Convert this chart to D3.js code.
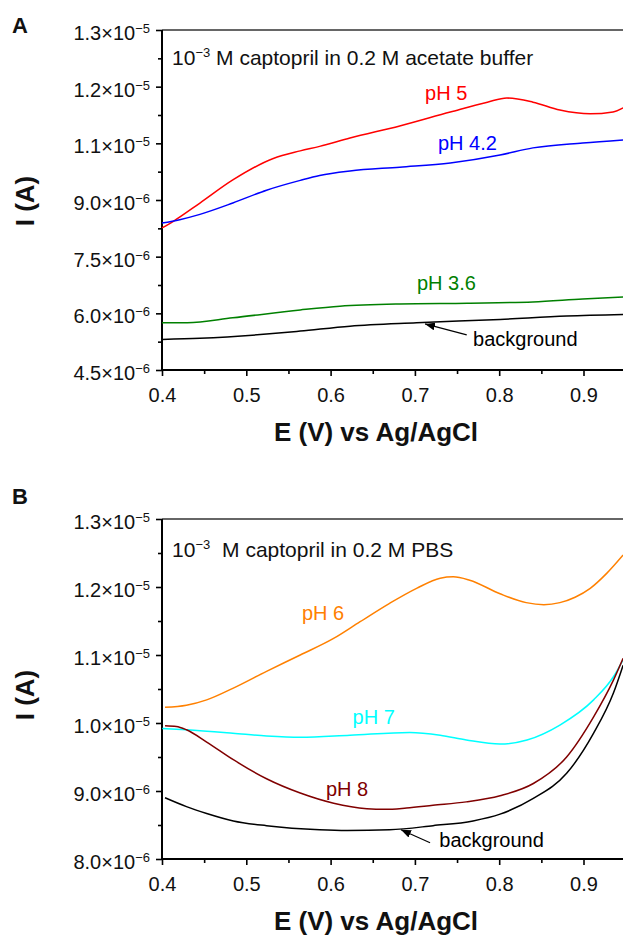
<!DOCTYPE html>
<html>
<head>
<meta charset="utf-8">
<script src="https://cdn.jsdelivr.net/npm/d3@7/dist/d3.min.js"></script>
<style>
  html, body { margin: 0; padding: 0; background: #fff; }
  svg { display: block; font-family: "Liberation Sans", Arial, Helvetica, sans-serif; }
</style>
</head>
<body>
<svg id="chart" width="623" height="937"></svg>
<script>
// Potential axis (V vs Ag/AgCl), shared by both panels
const potentialTicks = [0.4, 0.5, 0.6, 0.7, 0.8, 0.9];
const potentialMinor = [0.45, 0.55, 0.65, 0.75, 0.85];

// Panel A: acetate buffer. Currents in units of 1e-6 A.
const acetateTicks = [4.5, 6.0, 7.5, 9.0, 10.5, 12.0, 13.5];
const acetateTickLabels = [["4.5", "−6"], ["6.0", "−6"], ["7.5", "−6"], ["9.0", "−6"],
                           ["1.1", "−5"], ["1.2", "−5"], ["1.3", "−5"]];
const acetatePH5 = [[0.400, 8.26], [0.413, 8.43], [0.445, 8.92], [0.484, 9.53], [0.532, 10.10],
  [0.564, 10.30], [0.587, 10.42], [0.623, 10.64], [0.682, 10.96], [0.742, 11.33], [0.786, 11.59],
  [0.809, 11.70], [0.840, 11.59], [0.872, 11.38], [0.908, 11.28], [0.935, 11.33], [0.947, 11.44]];
const acetatePH42 = [[0.400, 8.39], [0.421, 8.48], [0.445, 8.62], [0.484, 8.92], [0.524, 9.26],
  [0.564, 9.52], [0.587, 9.65], [0.623, 9.77], [0.682, 9.87], [0.742, 9.98], [0.801, 10.19],
  [0.840, 10.38], [0.899, 10.51], [0.947, 10.59]];
const acetatePH36 = [[0.400, 5.75], [0.430, 5.75], [0.484, 5.88], [0.564, 6.09], [0.611, 6.19],
  [0.682, 6.25], [0.762, 6.27], [0.840, 6.30], [0.899, 6.38], [0.947, 6.43]];
const acetateBackground = [[0.400, 5.31], [0.445, 5.34], [0.524, 5.45], [0.564, 5.53], [0.623, 5.66],
  [0.702, 5.75], [0.801, 5.84], [0.880, 5.93], [0.947, 5.97]];

// Panel B: phosphate buffer. Currents in units of 1e-6 A.
const pbsTicks = [8, 9, 10, 11, 12, 13];
const pbsTickLabels = [["8.0", "−6"], ["9.0", "−6"], ["1.0", "−5"], ["1.1", "−5"], ["1.2", "−5"], ["1.3", "−5"]];
const pbsPH6 = [[0.4036, 10.23], [0.429, 10.26], [0.453, 10.34], [0.484, 10.51], [0.524, 10.76],
  [0.564, 11.00], [0.603, 11.24], [0.635, 11.49], [0.670, 11.76], [0.702, 11.98], [0.730, 12.13],
  [0.7455, 12.15], [0.765, 12.10], [0.801, 11.90], [0.832, 11.77], [0.853, 11.74], [0.872, 11.77],
  [0.890, 11.85], [0.908, 11.98], [0.9275, 12.20], [0.947, 12.47]];
const pbsPH7 = [[0.4004, 9.92], [0.429, 9.90], [0.484, 9.85], [0.524, 9.81], [0.564, 9.79],
  [0.623, 9.82], [0.694, 9.86], [0.730, 9.82], [0.761, 9.75], [0.801, 9.69], [0.833, 9.75],
  [0.872, 9.97], [0.912, 10.34], [0.9355, 10.68], [0.947, 10.93]];
const pbsPH8 = [[0.4036, 9.96], [0.417, 9.95], [0.429, 9.90], [0.453, 9.72], [0.4846, 9.46],
  [0.524, 9.18], [0.564, 8.97], [0.6036, 8.82], [0.643, 8.74], [0.665, 8.73], [0.690, 8.75],
  [0.7215, 8.79], [0.761, 8.84], [0.801, 8.93], [0.8405, 9.11], [0.880, 9.50], [0.912, 10.09],
  [0.9355, 10.63], [0.947, 10.95]];
const pbsBackground = [[0.4036, 8.90], [0.429, 8.77], [0.453, 8.67], [0.4846, 8.56], [0.524, 8.49],
  [0.587, 8.43], [0.620, 8.42], [0.670, 8.43], [0.7215, 8.49], [0.769, 8.56], [0.801, 8.66],
  [0.8405, 8.89], [0.880, 9.26], [0.912, 9.85], [0.9355, 10.44], [0.947, 10.85]];

const FONT_TICK = 20;
const FONT_TITLE = 26;

const svg = d3.select("#chart");

svg.append("defs").append("marker")
  .attr("id", "arrow")
  .attr("markerUnits", "userSpaceOnUse")
  .attr("viewBox", "0 0 10 8")
  .attr("refX", 10).attr("refY", 4)
  .attr("markerWidth", 10).attr("markerHeight", 8)
  .attr("orient", "auto")
  .append("path").attr("d", "M0,0 L10,4 L0,8 Z").attr("fill", "#000");

function drawPanel(cfg) {
  const left = 162, right = 162 + 0.55 * 843;
  const x = d3.scaleLinear().domain([0.4, 0.95]).range([left, right]);
  const y = d3.scaleLinear().domain(cfg.yDomain).range([cfg.bottom, cfg.top]);
  const g = svg.append("g");

  // frame: top border, left and bottom axes
  g.append("line").attr("x1", left).attr("x2", 640).attr("y1", cfg.top).attr("y2", cfg.top)
    .attr("stroke", "#333").attr("stroke-width", 1.5);

  // y axis
  const yAxis = d3.axisLeft(y).tickValues(cfg.yTicks).tickSize(6).tickFormat("");
  const ya = g.append("g").attr("transform", `translate(${left},0)`).call(yAxis);
  const yMinor = d3.axisLeft(y).tickValues(d3.pairs(cfg.yTicks).map(p => (p[0] + p[1]) / 2))
    .tickSize(4).tickFormat("");
  const ym = g.append("g").attr("transform", `translate(${left},0)`).call(yMinor);
  [ya, ym].forEach(a => {
    a.select(".domain").remove();
    a.selectAll(".tick line").attr("stroke", "#000").attr("stroke-width", 1.6);
  });
  g.append("line").attr("x1", left).attr("x2", left).attr("y1", cfg.top).attr("y2", cfg.bottom + 1)
    .attr("stroke", "#000").attr("stroke-width", 2);

  cfg.yTicks.forEach((v, i) => {
    const [mant, expo] = cfg.yLabels[i];
    const t = g.append("text").attr("x", left - 12).attr("y", y(v) + 10)
      .attr("text-anchor", "end").attr("font-size", FONT_TICK).attr("fill", "#111");
    t.append("tspan").text(mant + "×10");
    t.append("tspan").attr("font-size", 13).attr("dy", -7).text(expo);
  });

  // x axis
  const xAxis = d3.axisBottom(x).tickValues(potentialTicks).tickSize(6)
    .tickFormat(d3.format(".1f"));
  const xa = g.append("g").attr("transform", `translate(0,${cfg.bottom})`).call(xAxis);
  xa.select(".domain").remove();
  xa.selectAll(".tick line").attr("stroke", "#000").attr("stroke-width", 1.6);
  xa.selectAll(".tick text").attr("font-size", FONT_TICK).attr("fill", "#111")
    .attr("font-family", null).attr("dy", null).attr("y", 32);
  const xm = g.append("g").attr("transform", `translate(0,${cfg.bottom})`)
    .call(d3.axisBottom(x).tickValues(potentialMinor).tickSize(4).tickFormat(""));
  xm.select(".domain").remove();
  xm.selectAll(".tick line").attr("stroke", "#000").attr("stroke-width", 1.6);
  g.append("line").attr("x1", left - 1).attr("x2", 640).attr("y1", cfg.bottom).attr("y2", cfg.bottom)
    .attr("stroke", "#000").attr("stroke-width", 2);

  // axis titles
  g.append("text").attr("x", 376).attr("y", cfg.bottom + 71)
    .attr("text-anchor", "middle").attr("font-weight", "bold").attr("font-size", FONT_TITLE)
    .attr("fill", "#111").text("E (V) vs Ag/AgCl");
  g.append("text").attr("transform", `translate(34,${cfg.yTitleY}) rotate(-90)`)
    .attr("text-anchor", "middle").attr("font-weight", "bold").attr("font-size", FONT_TITLE)
    .attr("fill", "#111").text("I (A)");

  // panel letter
  g.append("text").attr("x", 12).attr("y", cfg.letterY).attr("font-weight", "bold")
    .attr("font-size", 22).attr("fill", "#111").text(cfg.letter);

  // curves
  const line = d3.line().x(d => x(d[0])).y(d => y(d[1])).curve(d3.curveMonotoneX);
  cfg.series.forEach(s => {
    g.append("path").datum(s.data).attr("d", line).attr("fill", "none")
      .attr("stroke", s.color).attr("stroke-width", 1.5);
    g.append("text").attr("x", x(s.label[0])).attr("y", y(s.label[1]))
      .attr("font-size", 20).attr("fill", s.color).text(s.name);
  });

  // background arrow
  g.append("line")
    .attr("x1", x(cfg.arrow[0][0])).attr("y1", y(cfg.arrow[0][1]))
    .attr("x2", x(cfg.arrow[1][0])).attr("y2", y(cfg.arrow[1][1]))
    .attr("stroke", "#000").attr("stroke-width", 1.2).attr("marker-end", "url(#arrow)");

  // condition note
  const note = g.append("text").attr("x", x(cfg.note.at[0])).attr("y", y(cfg.note.at[1]))
    .attr("font-size", 21).attr("fill", "#111");
  note.append("tspan").text("10");
  note.append("tspan").attr("font-size", 13).attr("dy", -8).text("−3");
  note.append("tspan").attr("dy", 8).attr("dx", cfg.note.gap).text(" M captopril in 0.2 M " + cfg.note.medium);
}

drawPanel({
  letter: "A", letterY: 33, top: 30, bottom: 370, yTitleY: 201,
  yDomain: [4.5, 13.5], yTicks: acetateTicks, yLabels: acetateTickLabels,
  series: [
    { name: "pH 5", color: "#ff0000", data: acetatePH5, label: [0.712, 11.66] },
    { name: "pH 4.2", color: "#0000ff", data: acetatePH42, label: [0.7274, 10.32] },
    { name: "pH 3.6", color: "#008000", data: acetatePH36, label: [0.7025, 6.62] },
    { name: "background", color: "#000000", data: acetateBackground, label: [0.769, 5.135] }
  ],
  arrow: [[0.7615, 5.43], [0.712, 5.72]],
  note: { at: [0.4119, 12.57], medium: "acetate buffer", gap: 0 }
});

drawPanel({
  letter: "B", letterY: 504, top: 519, bottom: 859, yTitleY: 695,
  yDomain: [8, 13], yTicks: pbsTicks, yLabels: pbsTickLabels,
  series: [
    { name: "pH 6", color: "#ff8000", data: pbsPH6, label: [0.566, 11.51] },
    { name: "pH 7", color: "#00ffff", data: pbsPH7, label: [0.626, 9.985] },
    { name: "pH 8", color: "#800000", data: pbsPH8, label: [0.5945, 8.93] },
    { name: "background", color: "#000000", data: pbsBackground, label: [0.729, 8.176] }
  ],
  arrow: [[0.718, 8.24], [0.6835, 8.43]],
  note: { at: [0.4119, 12.44], medium: "PBS", gap: 6 }
});
</script>
</body>
</html>
